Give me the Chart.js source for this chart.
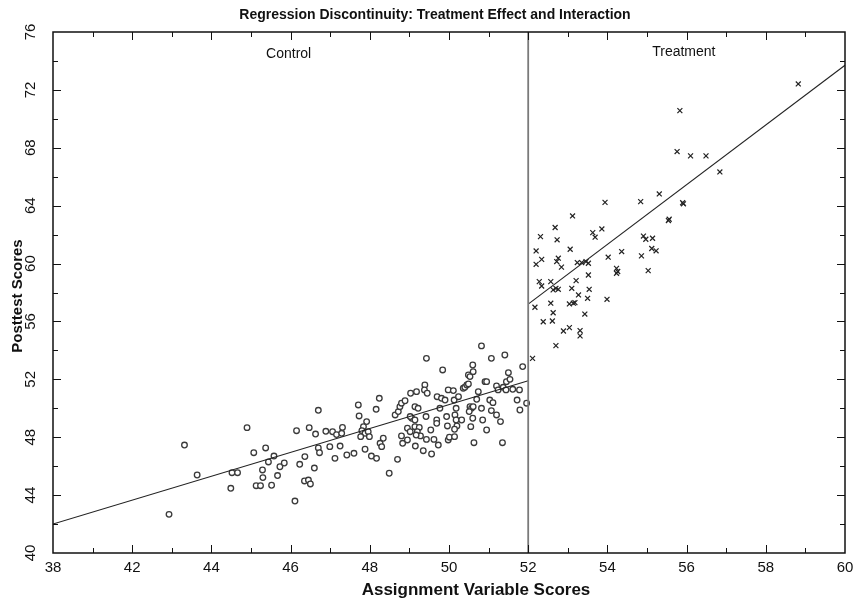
<!DOCTYPE html>
<html>
<head>
<meta charset="utf-8">
<script src="https://cdn.jsdelivr.net/npm/chart.js@4.4.1/dist/chart.umd.min.js"></script>
<style>
  html, body { margin: 0; padding: 0; background: #fff; }
  #wrap { width: 860px; height: 600px; }
</style>
</head>
<body>
<div id="wrap"><canvas id="rd"></canvas></div>
<script>
// control group (circles), below the cutoff
const controlX = [42.93, 43.32, 43.64, 44.49, 44.52, 44.66, 44.90, 45.07, 45.37, 45.13, 45.24, 45.29, 45.30, 45.44, 45.52, 45.58,
    45.67, 45.73, 45.84, 46.11, 46.15, 46.23, 46.36, 46.35, 46.45, 46.50, 46.47, 46.63, 46.70, 46.60, 46.70, 46.73,
    46.89, 47.06, 47.16, 46.99, 47.12, 47.25, 47.29, 47.31, 47.42, 47.60, 47.71, 47.73, 47.84, 47.80, 47.92, 47.88,
    47.96, 47.99, 47.77, 47.88, 48.04, 48.17, 48.16, 48.24, 48.26, 48.30, 48.34, 48.49, 48.70, 48.64, 48.72, 48.76,
    48.80, 48.89, 48.80, 48.83, 48.95, 48.95, 49.02, 49.06, 49.03, 49.18, 49.14, 49.22, 49.02, 49.14, 49.14, 49.25,
    49.20, 49.28, 49.17, 49.15, 49.35, 49.43, 49.56, 49.62, 49.39, 49.38, 49.45, 49.43, 49.42, 49.54, 49.69, 49.69,
    49.77, 49.70, 49.84, 49.81, 49.90, 49.94, 49.96, 49.98, 50.01, 49.98, 50.11, 50.13, 50.18, 50.15, 50.18, 50.20,
    50.14, 50.24, 50.32, 50.36, 50.40, 50.45, 50.49, 50.49, 50.53, 50.60, 50.61, 50.53, 50.57, 50.61, 50.51, 50.60,
    50.55, 50.63, 50.70, 50.74, 50.82, 50.85, 50.91, 50.95, 50.95, 51.03, 51.07, 51.07, 51.11, 51.20, 51.20, 51.24,
    51.30, 51.35, 51.37, 51.41, 51.44, 51.45, 51.50, 51.54, 51.61, 51.72, 51.78, 51.79, 51.86, 51.96, 49.73, 50.14,
    50.82];
const controlY = [42.67, 47.46, 45.39, 44.47, 45.55, 45.55, 48.66, 46.93, 47.26, 44.65, 44.65, 45.74, 45.21, 46.29, 44.68, 46.70,
    45.35, 45.96, 46.22, 43.59, 48.45, 46.13, 46.66, 44.98, 45.04, 44.77, 48.66, 48.22, 49.86, 45.87, 47.26, 46.93,
    48.41, 48.38, 48.18, 47.35, 46.54, 47.39, 48.27, 48.68, 46.77, 46.89, 50.23, 49.47, 48.73, 48.45, 49.08, 48.27,
    48.38, 48.04, 48.04, 47.17, 46.70, 46.54, 49.93, 50.69, 47.58, 47.35, 47.93, 45.51, 46.47, 49.54, 49.77, 50.11,
    50.35, 50.52, 48.09, 47.58, 47.81, 48.62, 48.38, 49.31, 51.04, 51.15, 50.11, 50.00, 49.43, 49.19, 48.73, 48.68,
    48.38, 48.09, 48.15, 47.39, 47.07, 47.85, 46.84, 47.85, 51.61, 51.27, 51.04, 53.45, 49.43, 48.50, 49.19, 48.96,
    50.00, 50.80, 52.65, 50.69, 50.57, 49.43, 48.78, 47.81, 48.00, 51.27, 51.22, 50.57, 50.00, 49.54, 49.19, 48.78,
    48.55, 50.80, 49.19, 51.38, 51.45, 51.61, 51.68, 52.30, 52.19, 52.99, 52.53, 50.11, 50.00, 50.11, 49.77, 49.31,
    48.73, 47.62, 50.62, 51.15, 50.00, 49.19, 51.84, 51.84, 48.50, 50.57, 49.84, 53.45, 50.39, 51.54, 49.54, 51.27,
    49.08, 47.62, 51.45, 53.68, 51.27, 51.84, 52.46, 52.00, 51.31, 50.57, 51.27, 49.88, 52.88, 50.35, 47.46, 48.04,
    54.31];

// treatment group (crosses), above the cutoff
const treatmentX = [52.11, 52.17, 52.20, 52.20, 52.31, 52.34, 52.28, 52.34, 52.38, 52.57, 52.57, 52.61, 52.63, 52.63, 52.70, 52.76,
    52.68, 52.70, 52.73, 52.72, 52.76, 52.84, 52.89, 53.04, 53.06, 53.04, 53.14, 53.18, 53.12, 53.10, 53.21, 53.27,
    53.24, 53.35, 53.46, 53.52, 53.31, 53.31, 53.43, 53.52, 53.54, 53.50, 53.63, 53.69, 53.86, 53.94, 53.99, 54.02,
    54.23, 54.26, 54.23, 54.36, 54.84, 54.86, 54.91, 54.97, 55.14, 55.03, 55.12, 55.23, 55.31, 55.54, 55.56, 55.92,
    58.82, 55.83, 55.76, 56.10, 56.49, 56.84, 55.90];
const treatmentY = [53.45, 56.98, 60.87, 59.95, 61.86, 60.29, 58.75, 58.45, 55.98, 58.75, 57.26, 56.03, 56.60, 58.18, 58.29, 58.22,
    62.49, 54.33, 61.64, 60.14, 60.37, 59.75, 55.34, 55.57, 60.99, 57.21, 57.26, 57.30, 63.29, 58.29, 58.82, 57.83,
    60.07, 60.07, 60.14, 60.02, 55.37, 55.00, 56.51, 59.21, 58.22, 57.60, 62.14, 61.82, 62.39, 64.23, 57.53, 60.44,
    59.67, 59.45, 59.33, 60.83, 64.28, 60.53, 61.90, 61.68, 61.75, 59.51, 61.04, 60.88, 64.81, 62.97, 63.06, 64.13,
    72.41, 70.57, 67.74, 67.44, 67.44, 66.33, 64.20];

// fitted lines and cutoff
const cutoff = 52;
const controlLineX = [40, 52];
const controlLineY = [42.0, 51.9];
const treatmentLineX = [52, 60];
const treatmentLineY = [57.2, 73.7];

const xTickValues = [40, 42, 44, 46, 48, 50, 52, 54, 56, 58, 60];
const xTickLabels = ['38', '42', '44', '46', '48', '50', '52', '54', '56', '58', '60'];
const yTickValues = [40, 44, 48, 52, 56, 60, 64, 68, 72, 76];

const FONT = '"Liberation Sans Narrow", "Liberation Sans", Arial, sans-serif';

const toPoints = (xs, ys) => xs.map((x, i) => ({ x: x, y: ys[i] }));

const frameAndLabels = {
    id: 'frameAndLabels',
    afterDraw(chart) {
        const { ctx, chartArea: a, scales: { x, y } } = chart;
        ctx.save();
        ctx.strokeStyle = '#111';
        ctx.lineWidth = 1.5;
        ctx.strokeRect(a.left, a.top, a.right - a.left, a.bottom - a.top);

        // inward ticks, all four sides
        ctx.lineWidth = 1;
        ctx.beginPath();
        for (let v = 41; v < 60; v++) {
            const px = Math.round(x.getPixelForValue(v)) + 0.5;
            const len = v % 2 === 0 ? 8 : 5;
            ctx.moveTo(px, a.bottom); ctx.lineTo(px, a.bottom - len);
            ctx.moveTo(px, a.top); ctx.lineTo(px, a.top + len);
        }
        for (let v = 42; v < 76; v += 2) {
            const py = Math.round(y.getPixelForValue(v)) + 0.5;
            const len = v % 4 === 0 ? 8 : 5;
            ctx.moveTo(a.left, py); ctx.lineTo(a.left + len, py);
            ctx.moveTo(a.right, py); ctx.lineTo(a.right - len, py);
        }
        ctx.stroke();

        ctx.fillStyle = '#111';
        ctx.textAlign = 'center';
        ctx.textBaseline = 'middle';

        ctx.font = '15px ' + FONT;
        xTickValues.forEach((v, i) => {
            ctx.fillText(xTickLabels[i], x.getPixelForValue(v), a.bottom + 15);
        });
        yTickValues.forEach(v => {
            ctx.save();
            ctx.translate(a.left - 22, y.getPixelForValue(v));
            ctx.rotate(-Math.PI / 2);
            ctx.fillText(String(v), 0, 0);
            ctx.restore();
        });

        // group labels
        ctx.font = '14px ' + FONT;
        ctx.fillText('Control', x.getPixelForValue(45.95), y.getPixelForValue(74.5));
        ctx.fillText('Treatment', x.getPixelForValue(55.93), y.getPixelForValue(74.6));

        // titles
        ctx.font = 'bold 14px ' + FONT;
        ctx.fillText('Regression Discontinuity: Treatment Effect and Interaction', 435, 15);
        ctx.font = 'bold 17px ' + FONT;
        ctx.fillText('Assignment Variable Scores', 476, 590);
        ctx.font = 'bold 15px ' + FONT;
        ctx.save();
        ctx.translate(18, 296);
        ctx.rotate(-Math.PI / 2);
        ctx.fillText('Posttest Scores', 0, 0);
        ctx.restore();

        ctx.restore();
    }
};

new Chart(document.getElementById('rd').getContext('2d'), {
    type: 'scatter',
    data: {
        datasets: [
            {
                label: 'Cutoff',
                data: [{ x: cutoff, y: 40 }, { x: cutoff, y: 76 }],
                showLine: true,
                borderColor: '#7a7a7a',
                borderWidth: 1.8,
                pointRadius: 0
            },
            {
                label: 'Control fit',
                data: toPoints(controlLineX, controlLineY),
                showLine: true,
                borderColor: '#222',
                borderWidth: 1.1,
                pointRadius: 0
            },
            {
                label: 'Treatment fit',
                data: toPoints(treatmentLineX, treatmentLineY),
                showLine: true,
                borderColor: '#222',
                borderWidth: 1.1,
                pointRadius: 0
            },
            {
                label: 'Control',
                data: toPoints(controlX, controlY),
                pointStyle: 'circle',
                pointRadius: 2.8,
                borderWidth: 1.3,
                borderColor: '#3a3a3a',
                backgroundColor: '#fff'
            },
            {
                label: 'Treatment',
                data: toPoints(treatmentX, treatmentY),
                pointStyle: 'crossRot',
                pointRadius: 3.5,
                borderWidth: 1.2,
                borderColor: '#222'
            }
        ]
    },
    options: {
        responsive: true,
        maintainAspectRatio: false,
        animation: false,
        layout: { padding: { left: 53, right: 15, top: 32, bottom: 47 } },
        plugins: {
            legend: { display: false },
            tooltip: { enabled: false }
        },
        scales: {
            x: { type: 'linear', min: 40, max: 60, display: false },
            y: { type: 'linear', min: 40, max: 76, display: false }
        }
    },
    plugins: [frameAndLabels]
});
</script>
</body>
</html>
